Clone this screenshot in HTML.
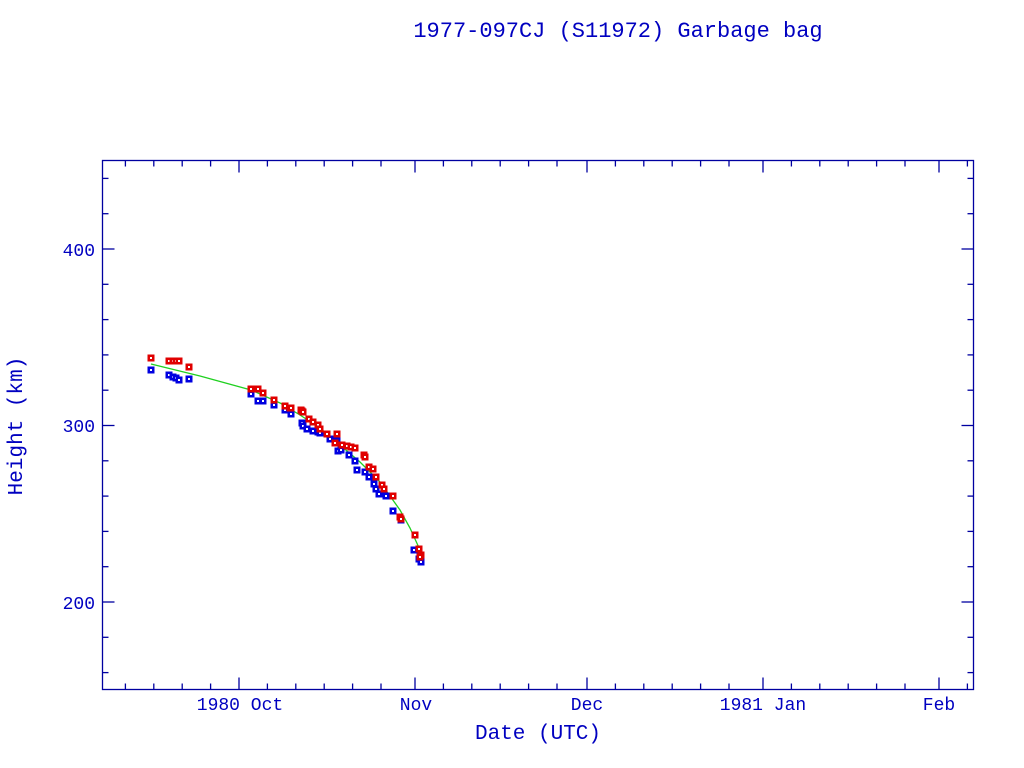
<!DOCTYPE html>
<html><head><meta charset="utf-8"><style>
html,body{margin:0;padding:0;background:#fff;}
svg{display:block;}
text{font-family:"Liberation Mono",monospace;fill:#0000c0;}
</style></head><body>
<svg id="s" width="1024" height="768" xmlns="http://www.w3.org/2000/svg">
<rect x="0" y="0" width="1024" height="768" fill="#fff"/>
<text x="618" y="37" font-size="22" text-anchor="middle">1977-097CJ (S11972) Garbage bag</text>
<rect x="102.5" y="160.5" width="871" height="529" fill="none" stroke="#0000a0" stroke-width="1.3"/>
<g id="ticks" stroke="#0000a0" stroke-width="1.3"></g>
<text x="95" y="256" font-size="18" text-anchor="end">400</text>
<text x="95" y="432" font-size="18" text-anchor="end">300</text>
<text x="95" y="609" font-size="18" text-anchor="end">200</text>
<text x="240" y="710" font-size="18" text-anchor="middle">1980 Oct</text>
<text x="416" y="710" font-size="18" text-anchor="middle">Nov</text>
<text x="587" y="710" font-size="18" text-anchor="middle">Dec</text>
<text x="763" y="710" font-size="18" text-anchor="middle">1981 Jan</text>
<text x="939" y="710" font-size="18" text-anchor="middle">Feb</text>
<text x="538" y="739" font-size="21" text-anchor="middle">Date (UTC)</text>
<text x="0" y="0" font-size="21" text-anchor="middle" transform="translate(22,426) rotate(-90)">Height (km)</text>
<polyline fill="none" stroke="#20d020" stroke-width="1.3" points="151,364 200,376 251,390 280,403 300,415 320,428 340,445 360,462 380,482 400,510 410,528 420,550"/>
<g id="pts"></g>
</svg>
<script>
var NS="http://www.w3.org/2000/svg";
var t=document.getElementById("ticks");
function L(x1,y1,x2,y2){var l=document.createElementNS(NS,"line");l.setAttribute("x1",x1);l.setAttribute("y1",y1);l.setAttribute("x2",x2);l.setAttribute("y2",y2);t.appendChild(l);}
function yp(v){return 602-(v-200)*1.765;}
for(var v=160;v<=440;v+=20){var y=yp(v);var len=(v%100==0)?12:6;L(102.5,y,102.5+len,y);L(973.5,y,973.5-len,y);}
var px=5.68,xs=[];
[[239-30*px,30],[239,31],[415,30],[587,31],[763,31],[939,28]].forEach(function(m){for(var d=1;d<=26;d+=5){xs.push([m[0]+(d-1)*px,d==1]);}});
xs.forEach(function(a){var x=a[0];if(x<103||x>973)return;var len=a[1]?12:6;L(x,689.5,x,689.5-len);L(x,160.5,x,160.5+len);});
var red=[[151,358],[169,361],[173,361],[176,361],[179,361],[189,367],[251,389],[258,389],[263,393],[274,400],[285,406],[290,408],[291,408],[302,411],[309,419],[313,422],[318,425],[320,429],[327,434],[337,434],[335,443],[342,445],[347,446],[351,447],[355,448],[364,455],[365,457],[369,467],[373,469],[376,477],[382,485],[384,489],[393,496],[400,517],[401,519],[415,535],[419,549],[421,555],[420,557],[301,410],[303,412]];
var blue=[[151,370],[169,375],[173,377],[176,378],[179,380],[189,379],[251,394],[258,401],[263,401],[274,405],[285,410],[291,414],[302,423],[303,426],[307,429],[313,431],[318,432],[320,433],[330,439],[337,441],[338,451],[341,450],[346,446],[349,455],[355,461],[357,470],[365,472],[369,477],[374,484],[376,489],[379,494],[386,496],[393,511],[401,520],[414,550],[419,559],[421,562]];
var g=document.getElementById("pts");
function P(x,y,c){var r=document.createElementNS(NS,"rect");r.setAttribute("x",x-3.5);r.setAttribute("y",y-3.5);r.setAttribute("width",7);r.setAttribute("height",7);r.setAttribute("fill",c);g.appendChild(r);var w=document.createElementNS(NS,"rect");w.setAttribute("x",x-1);w.setAttribute("y",y-1);w.setAttribute("width",2);w.setAttribute("height",2);w.setAttribute("fill","#fff");g.appendChild(w);}
blue.forEach(function(p){P(p[0],p[1],"#0000e0");});
red.forEach(function(p){P(p[0],p[1],"#e00000");});
</script>
</body></html>
